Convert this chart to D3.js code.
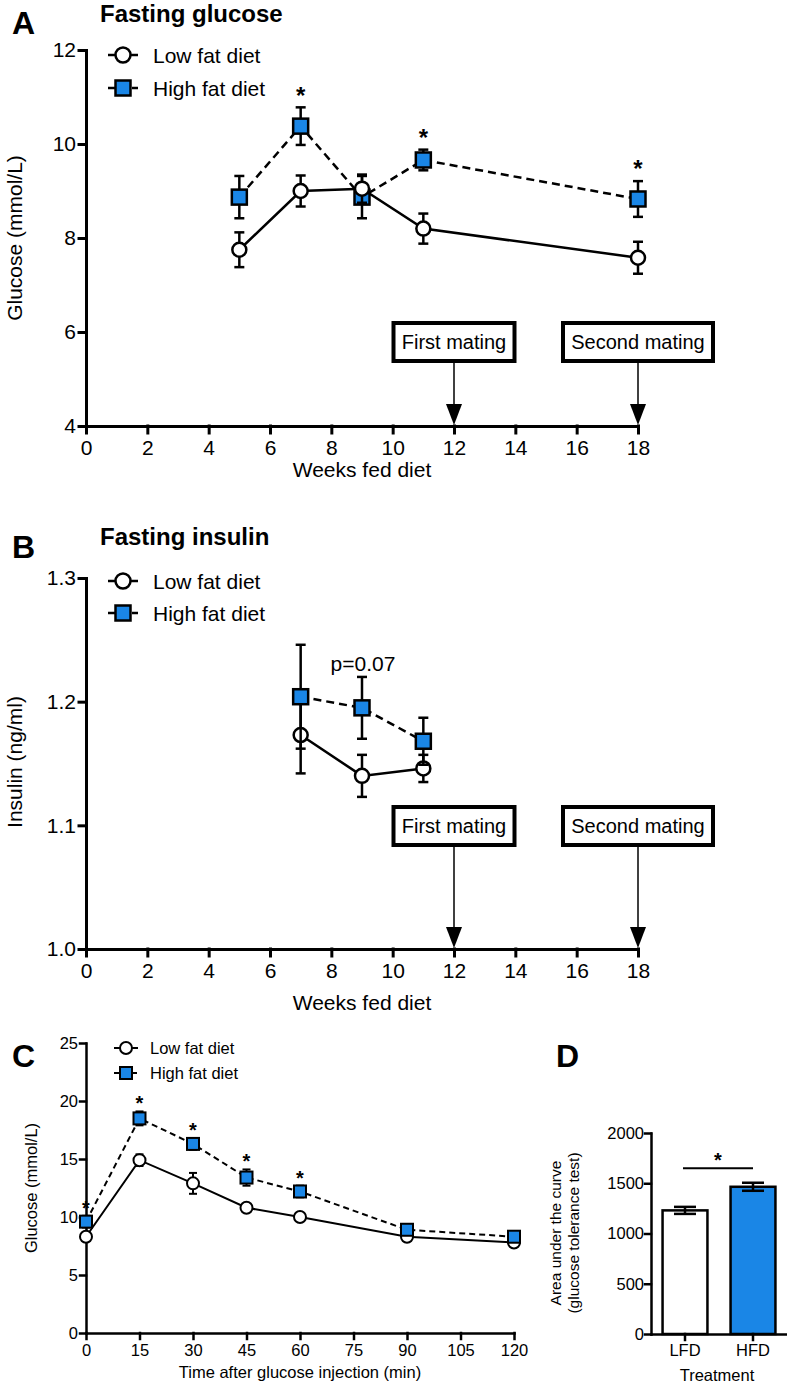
<!DOCTYPE html>
<html>
<head>
<meta charset="utf-8">
<script src="https://cdn.jsdelivr.net/npm/d3@7"></script>
<style>
  body { margin: 0; background: #fff; }
  svg text { font-family: "Liberation Sans", Arial, sans-serif; fill: #000; }
</style>
</head>
<body>
<div id="chart"></div>
<script>
// ---- data ----
// A: fasting glucose
const weeksGlucose = [5, 7, 9, 11, 18];
const glucoseLow = [7.75, 9.0, 9.05, 8.2, 7.58];
const glucoseLowErr = [0.37, 0.33, 0.3, 0.32, 0.34];
const glucoseHigh = [8.87, 10.38, 8.87, 9.66, 8.83];
const glucoseHighErr = [0.45, 0.4, 0.45, 0.22, 0.38];
const glucoseStarWeeks = [7, 11, 18];

// B: fasting insulin
const weeksInsulin = [7, 9, 11];
const insulinLow = [1.173, 1.140, 1.146];
const insulinLowErr = [0.031, 0.017, 0.011];
const insulinHigh = [1.204, 1.195, 1.168];
const insulinHighErr = [0.042, 0.025, 0.019];

// mating events
const matingWeeks = [12, 18];
const matingLabels = ["First mating", "Second mating"];

// C: glucose tolerance test
const gttTimes = [0, 15, 30, 45, 60, 90, 120];
const gttLow = [8.3, 14.9, 12.9, 10.8, 10.0, 8.3, 7.8];
const gttLowErr = [0.3, 0.5, 0.9, 0.2, 0.2, 0.2, 0.2];
const gttHigh = [9.6, 18.5, 16.3, 13.4, 12.2, 8.9, 8.3];
const gttHighErr = [0.5, 0.6, 0.5, 0.7, 0.5, 0.3, 0.3];
const gttStarTimes = [0, 15, 30, 45, 60];

// D: area under the curve
const aucGroups = ["LFD", "HFD"];
const aucValues = [1230, 1465];
const aucErr = [35, 40];

// tick values
const weekTicks = d3.range(0, 19, 2);
const glucoseTicks = [4, 6, 8, 10, 12];
const insulinTicks = [1.0, 1.1, 1.2, 1.3];
const gttXTicks = [0, 15, 30, 45, 60, 75, 90, 105, 120];
const gttYTicks = [0, 5, 10, 15, 20, 25];
const aucTicks = [0, 500, 1000, 1500, 2000];

const blue = "#1a86e6";

const svg = d3.select("#chart").append("svg")
    .attr("width", 787)
    .attr("height", 1384);

// ---- helpers ----
function styleAxis(a, lw, fs) {
    a.selectAll("path, line").attr("stroke", "#000").attr("stroke-width", lw)
        .attr("stroke-linecap", "square");
    a.selectAll("text").attr("font-size", fs).attr("font-family", null);
}

function drawAxes(x, y, o) {
    const g = svg.append("g");
    const xa = g.append("g")
        .attr("transform", `translate(0,${y.range()[0]})`)
        .call(d3.axisBottom(x).tickValues(o.xTicks).tickSize(o.tick).tickSizeOuter(0)
            .tickPadding(o.xPad).tickFormat(o.xFmt || d3.format("")));
    const ya = g.append("g")
        .attr("transform", `translate(${x.range()[0]},0)`)
        .call(d3.axisLeft(y).tickValues(o.yTicks).tickSize(o.tick).tickSizeOuter(0)
            .tickPadding(o.yPad).tickFormat(o.yFmt || d3.format("")));
    styleAxis(xa, o.lw, o.fs);
    styleAxis(ya, o.lw, o.fs);
    return g;
}

function marker(g, kind, cx, cy, sz, lw) {
    if (kind === "circle") {
        g.append("circle").attr("cx", cx).attr("cy", cy).attr("r", sz)
            .attr("fill", "#fff").attr("stroke", "#000").attr("stroke-width", lw);
    } else {
        g.append("rect").attr("x", cx - sz).attr("y", cy - sz)
            .attr("width", sz * 2).attr("height", sz * 2)
            .attr("fill", blue).attr("stroke", "#000").attr("stroke-width", lw);
    }
}

function drawSeries(x, y, xs, vals, errs, s) {
    const g = svg.append("g");
    const eb = g.append("g").attr("stroke", "#000").attr("stroke-width", s.lw);
    xs.forEach((d, i) => {
        const cx = x(d);
        eb.append("line").attr("x1", cx).attr("x2", cx)
            .attr("y1", y(vals[i] - errs[i])).attr("y2", y(vals[i] + errs[i]));
        [vals[i] - errs[i], vals[i] + errs[i]].forEach(v => {
            eb.append("line").attr("x1", cx - s.cap).attr("x2", cx + s.cap)
                .attr("y1", y(v)).attr("y2", y(v));
        });
    });
    g.append("path")
        .datum(xs.map((d, i) => [d, vals[i]]))
        .attr("fill", "none")
        .attr("stroke", "#000")
        .attr("stroke-width", s.lw)
        .attr("stroke-dasharray", s.dashed ? s.dash : null)
        .attr("d", d3.line().x(d => x(d[0])).y(d => y(d[1])));
    xs.forEach((d, i) => marker(g, s.kind, x(d), y(vals[i]), s.size, s.lw));
}

function drawLegend(lx, ly, gap, s) {
    const rows = [
        { kind: "circle", label: "Low fat diet", dashed: false },
        { kind: "square", label: "High fat diet", dashed: true }
    ];
    rows.forEach((r, i) => {
        const g = svg.append("g").attr("transform", `translate(${lx},${ly + i * gap})`);
        g.append("line").attr("x1", -s.half).attr("x2", s.half).attr("y1", 0).attr("y2", 0)
            .attr("stroke", "#000").attr("stroke-width", s.lw)
            .attr("stroke-dasharray", r.dashed ? s.dash : null);
        marker(g, r.kind, 0, 0, r.kind === "circle" ? s.r : s.sq, s.lw);
        g.append("text").attr("x", s.half + s.tx).attr("y", s.fs * 0.36)
            .attr("font-size", s.fs).text(r.label);
    });
}

function drawStars(x, y, xs, s) {
    xs.forEach(t => {
        const i = s.xs.indexOf(t);
        const top = y(s.vals[i] + s.errs[i]) - s.off;
        svg.append("text").attr("x", x(t)).attr("y", top + s.fs * 0.55)
            .attr("text-anchor", "middle").attr("font-size", s.fs).attr("font-weight", "bold")
            .text("*");
    });
}

function drawMatings(x, y, boxTop, boxH, widths) {
    matingWeeks.forEach((w, i) => {
        const cx = x(w);
        const bottom = y.range()[0];
        svg.append("line").attr("x1", cx).attr("x2", cx)
            .attr("y1", boxTop + boxH).attr("y2", bottom - 18)
            .attr("stroke", "#000").attr("stroke-width", 1.5);
        svg.append("path")
            .attr("d", `M${cx - 8},${bottom - 22}L${cx + 8},${bottom - 22}L${cx},${bottom - 1}Z`)
            .attr("fill", "#000");
        svg.append("rect").attr("x", cx - widths[i] / 2).attr("y", boxTop)
            .attr("width", widths[i]).attr("height", boxH)
            .attr("fill", "#fff").attr("stroke", "#000").attr("stroke-width", 4);
        svg.append("text").attr("x", cx).attr("y", boxTop + boxH / 2 + 7)
            .attr("text-anchor", "middle").attr("font-size", 20).text(matingLabels[i]);
    });
}

function label(txt, x, y, fs, opts = {}) {
    const t = svg.append("text").attr("x", x).attr("y", y).attr("font-size", fs)
        .attr("text-anchor", opts.anchor || "start")
        .attr("font-weight", opts.bold ? "bold" : null)
        .text(txt);
    if (opts.rotate) t.attr("transform", `rotate(-90,${x},${y})`);
    return t;
}

const bigSeries = { lw: 2.5, cap: 5, size: 7.5, dash: "8,5" };
const bigLegend = { half: 15, r: 7.5, sq: 7.5, lw: 2.5, dash: "7,5", tx: 15, fs: 21 };

// ---- Panel A ----
{
    const x = d3.scaleLinear().domain([0, 18]).range([86, 638]);
    const y = d3.scaleLinear().domain([4, 12]).range([426, 50]);
    drawAxes(x, y, { xTicks: weekTicks, yTicks: glucoseTicks, tick: 7, xPad: 7, yPad: 3, lw: 3, fs: 21 });
    drawMatings(x, y, 323, 38, [121, 150]);
    drawSeries(x, y, weeksGlucose, glucoseHigh, glucoseHighErr, { ...bigSeries, kind: "square", dashed: true });
    drawSeries(x, y, weeksGlucose, glucoseLow, glucoseLowErr, { ...bigSeries, kind: "circle", size: 7 });
    drawStars(x, y, glucoseStarWeeks, { xs: weeksGlucose, vals: glucoseHigh, errs: glucoseHighErr, off: 17, fs: 24 });
    drawLegend(123, 55, 33, bigLegend);
    label("A", 12, 34, 32, { bold: true });
    label("Fasting glucose", 100, 22, 24, { bold: true });
    label("Weeks fed diet", 362, 477, 21, { anchor: "middle" });
    label("Glucose (mmol/L)", 22, 238, 21, { anchor: "middle", rotate: true });
}

// ---- Panel B ----
{
    const x = d3.scaleLinear().domain([0, 18]).range([86, 638]);
    const y = d3.scaleLinear().domain([1.0, 1.3]).range([949, 578]);
    drawAxes(x, y, { xTicks: weekTicks, yTicks: insulinTicks, tick: 7, xPad: 7, yPad: 3, lw: 3, fs: 21,
        yFmt: d3.format(".1f") });
    drawMatings(x, y, 807, 38, [121, 150]);
    drawSeries(x, y, weeksInsulin, insulinLow, insulinLowErr, { ...bigSeries, kind: "circle", size: 7 });
    drawSeries(x, y, weeksInsulin, insulinHigh, insulinHighErr, { ...bigSeries, kind: "square", dashed: true });
    label("p=0.07", x(9) + 1, 671, 21, { anchor: "middle" });
    drawLegend(123, 581, 32, bigLegend);
    label("B", 12, 558, 32, { bold: true });
    label("Fasting insulin", 100, 545, 24, { bold: true });
    label("Weeks fed diet", 362, 1010, 21, { anchor: "middle" });
    label("Insulin (ng/ml)", 22, 762, 21, { anchor: "middle", rotate: true });
}

// ---- Panel C ----
{
    const x = d3.scaleLinear().domain([0, 120]).range([86, 514]);
    const y = d3.scaleLinear().domain([0, 25]).range([1333, 1043]);
    drawAxes(x, y, { xTicks: gttXTicks, yTicks: gttYTicks, tick: 6, xPad: 5, yPad: 2, lw: 2.5, fs: 16.5 });
    const s = { lw: 2, cap: 4, size: 6, dash: "6,4" };
    drawSeries(x, y, gttTimes, gttLow, gttLowErr, { ...s, kind: "circle" });
    drawSeries(x, y, gttTimes, gttHigh, gttHighErr, { ...s, kind: "square", dashed: true });
    drawStars(x, y, gttStarTimes, { xs: gttTimes, vals: gttHigh, errs: gttHighErr, off: 12, fs: 20 });
    drawLegend(126, 1048, 25, { half: 12, r: 6, sq: 6, lw: 2, dash: "5,4", tx: 12, fs: 16.5 });
    label("C", 12, 1067, 32, { bold: true });
    label("Time after glucose injection (min)", 300, 1378, 16.5, { anchor: "middle" });
    label("Glucose (mmol/L)", 37, 1188, 16.5, { anchor: "middle", rotate: true });
}

// ---- Panel D ----
{
    const x = d3.scaleBand().domain(aucGroups).range([651, 787]).paddingInner(0.34).paddingOuter(0.17);
    const y = d3.scaleLinear().domain([0, 2000]).range([1334, 1133]);
    const g = svg.append("g");
    aucGroups.forEach((k, i) => {
        g.append("rect").attr("x", x(k)).attr("y", y(aucValues[i]))
            .attr("width", x.bandwidth()).attr("height", y(0) - y(aucValues[i]))
            .attr("fill", i === 0 ? "#fff" : blue).attr("stroke", "#000").attr("stroke-width", 2.5);
        const cx = x(k) + x.bandwidth() / 2;
        [aucValues[i] - aucErr[i], aucValues[i] + aucErr[i]].forEach(v => {
            g.append("line").attr("x1", cx - 11).attr("x2", cx + 11).attr("y1", y(v)).attr("y2", y(v))
                .attr("stroke", "#000").attr("stroke-width", 2.5);
        });
        g.append("line").attr("x1", cx).attr("x2", cx)
            .attr("y1", y(aucValues[i] - aucErr[i])).attr("y2", y(aucValues[i] + aucErr[i]))
            .attr("stroke", "#000").attr("stroke-width", 2.5);
    });
    const xa = svg.append("g").attr("transform", `translate(0,${y(0)})`)
        .call(d3.axisBottom(x).tickSize(6).tickSizeOuter(0).tickPadding(4));
    const ya = svg.append("g").attr("transform", `translate(651,0)`)
        .call(d3.axisLeft(y).tickValues(aucTicks).tickSize(6).tickSizeOuter(0).tickPadding(1)
            .tickFormat(d3.format("d")));
    styleAxis(xa, 2.5, 16.5);
    styleAxis(ya, 2.5, 16.5);
    // significance bar
    const c0 = x("LFD") + x.bandwidth() / 2 - 2, c1 = x("HFD") + x.bandwidth() / 2;
    svg.append("line").attr("x1", c0).attr("x2", c1).attr("y1", y(1650)).attr("y2", y(1650))
        .attr("stroke", "#000").attr("stroke-width", 2);
    svg.append("text").attr("x", (c0 + c1) / 2).attr("y", y(1650) - 1)
        .attr("text-anchor", "middle").attr("font-size", 20).attr("font-weight", "bold").text("*");
    label("D", 556, 1067, 32, { bold: true });
    label("Treatment", 717, 1381, 16.5, { anchor: "middle" });
    label("Area under the curve", 561, 1233, 15.5, { anchor: "middle", rotate: true });
    label("(glucose tolerance test)", 579, 1233, 15.5, { anchor: "middle", rotate: true });
}
</script>
</body>
</html>
